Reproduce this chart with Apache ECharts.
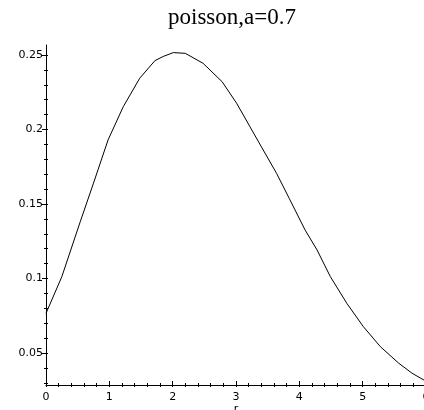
<!DOCTYPE html>
<html>
<head>
<meta charset="utf-8">
<script src="https://cdn.jsdelivr.net/npm/echarts@6/dist/echarts.min.js"></script>
<style>
  html, body { margin: 0; padding: 0; background: #fff; }
  #chart { width: 424px; height: 410px; }
</style>
</head>
<body>
<div id="chart"></div>
<script>
// values
const rValues = [0, 0.25, 0.54, 0.75, 0.98, 1.22, 1.48, 1.72, 1.85, 2.01, 2.2, 2.48, 2.78, 3.01, 3.22, 3.43, 3.64, 3.84, 4.09, 4.28, 4.49, 4.75, 5.01, 5.28, 5.57, 5.78, 6.0];
const probValues = [0.0766, 0.1012, 0.138, 0.164, 0.193, 0.2153, 0.2344, 0.2462, 0.249, 0.2516, 0.2511, 0.2444, 0.2321, 0.2176, 0.2019, 0.1862, 0.1706, 0.1538, 0.1326, 0.1191, 0.1012, 0.0833, 0.0677, 0.0542, 0.0431, 0.0364, 0.031];

const xMajorTicks = [0, 1, 2, 3, 4, 5, 6];
const xMinorTicks = [0, 0.2, 0.4, 0.6, 0.8, 1, 1.2, 1.4, 1.6, 1.8, 2, 2.2, 2.4, 2.6, 2.8, 3, 3.2, 3.4, 3.6, 3.8, 4, 4.2, 4.4, 4.6, 4.8, 5, 5.2, 5.4, 5.6, 5.8, 6];
const yMajorTicks = [0.05, 0.1, 0.15, 0.2, 0.25];
const yMinorTicks = [0.03, 0.04, 0.05, 0.06, 0.07, 0.08, 0.09, 0.1, 0.11, 0.12, 0.13, 0.14, 0.15, 0.16, 0.17, 0.18, 0.19, 0.2, 0.21, 0.22, 0.23, 0.24, 0.25];

const X_MIN = 0, X_MAX = 6;
const Y_MIN = 0.0285, Y_MAX = 0.2567;

let chart = echarts.init(document.getElementById('chart'));

const lineStyle = { color: '#000', width: 1 };
const labelFont = { fontFamily: 'DejaVu Sans', fontSize: 11, color: '#000' };

function xAxisLayer(ticks, inside, len, extra) {
    return Object.assign({
        type: 'value',
        position: 'bottom',
        min: X_MIN,
        max: X_MAX,
        axisLine: { show: false },
        axisTick: { show: true, inside: inside, length: len, customValues: ticks, lineStyle: lineStyle },
        axisLabel: { show: false },
        splitLine: { show: false }
    }, extra || {});
}

function yAxisLayer(ticks, inside, len, extra) {
    return Object.assign({
        type: 'value',
        position: 'left',
        min: Y_MIN,
        max: Y_MAX,
        axisLine: { show: false },
        axisTick: { show: true, inside: inside, length: len, customValues: ticks, lineStyle: lineStyle },
        axisLabel: { show: false },
        splitLine: { show: false }
    }, extra || {});
}

let option = {
    animation: false,
    backgroundColor: '#fff',
    title: {
        text: 'poisson,a=0.7',
        left: 163,
        top: 1,
        textStyle: {
            fontFamily: 'Liberation Serif',
            fontWeight: 'normal',
            fontSize: 23,
            color: '#000'
        }
    },
    grid: {
        left: 46,
        right: -2,
        top: 45,
        bottom: 25,
        containLabel: false,
        outerBoundsMode: 'none'
    },
    xAxis: [
        xAxisLayer(xMinorTicks, false, 2, {
            axisLine: { show: true, lineStyle: lineStyle },
            axisLabel: Object.assign({ show: true, customValues: xMajorTicks, margin: 7 }, labelFont),
            name: 'r',
            nameLocation: 'middle',
            nameGap: 19,
            nameMoveOverlap: false,
            nameTextStyle: labelFont
        }),
        xAxisLayer(xMinorTicks, true, 2),
        xAxisLayer(xMajorTicks, true, 4)
    ],
    yAxis: [
        yAxisLayer(yMinorTicks, false, 2, {
            axisLine: { show: true, lineStyle: lineStyle },
            axisLabel: Object.assign({ show: true, customValues: yMajorTicks, margin: 3 }, labelFont)
        }),
        yAxisLayer(yMinorTicks, true, 2),
        yAxisLayer(yMajorTicks, false, 4)
    ],
    series: [
        {
            type: 'line',
            xAxisIndex: 0,
            yAxisIndex: 0,
            data: rValues.map(function (r, i) { return [r, probValues[i]]; }),
            showSymbol: false,
            smooth: false,
            clip: false,
            lineStyle: { color: '#000', width: 1 }
        }
    ]
};
chart.setOption(option);

window.addEventListener('resize', function () {
    chart.resize();
});
</script>
</body>
</html>
